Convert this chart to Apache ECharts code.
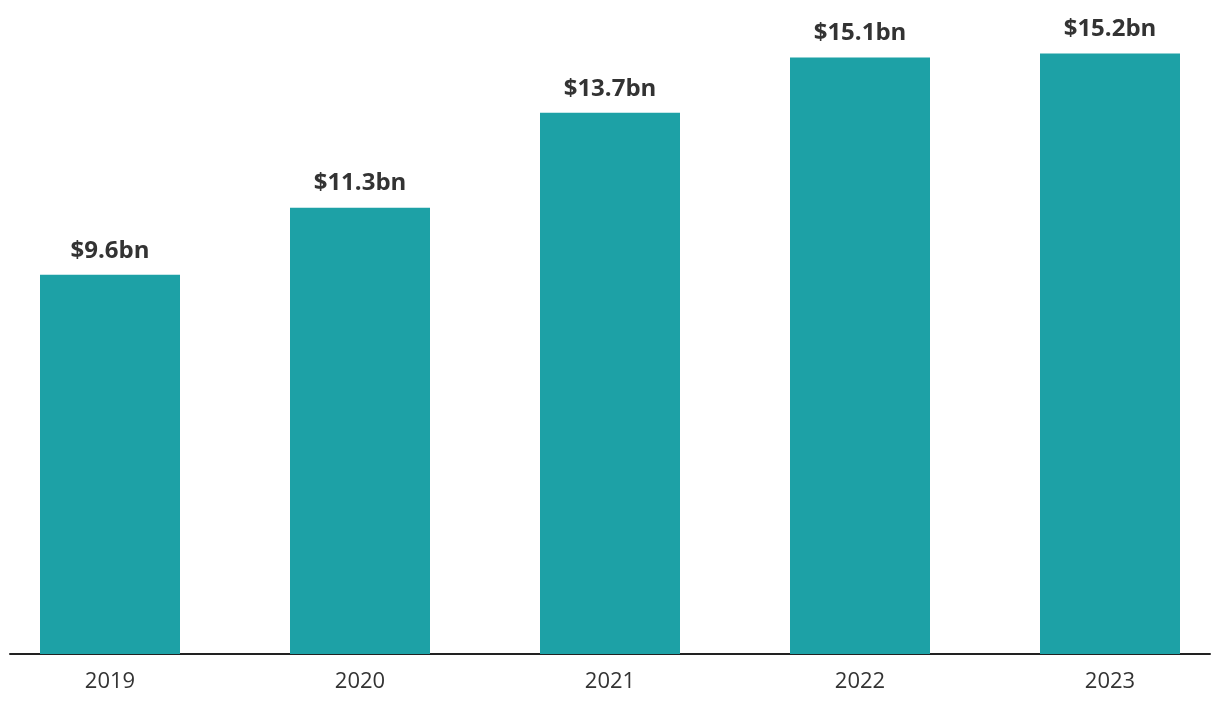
<!DOCTYPE html>
<html><head><meta charset="utf-8">
<script src="https://cdn.jsdelivr.net/npm/echarts@6/dist/echarts.min.js"></script>
<style>html,body{margin:0;padding:0;background:#fff}#c{width:1220px;height:718px}</style>
</head><body><div id="c"></div>
<script>
const categories = ['2019','2020','2021','2022','2023'];
const values = [9.6, 11.3, 13.7, 15.1, 15.2];
const labels = ['$9.6bn','$11.3bn','$13.7bn','$15.1bn','$15.2bn'];

const chart = echarts.init(document.getElementById('c'), null, {renderer:'canvas'});
chart.setOption({
  animation:false,
  grid:[
    {left:-15, width:1250, top:22, bottom:64, containLabel:false, outerBoundsMode:'none'},
    {left:10, right:10, top:22, bottom:64, containLabel:false, outerBoundsMode:'none'}
  ],
  xAxis:[
    {type:'category', gridIndex:0, data:categories,
     axisLine:{show:false}, axisTick:{show:false},
     axisLabel:{color:'#333', fontFamily:'Open Sans', fontSize:22, margin:17}},
    {type:'category', gridIndex:1, data:[''], axisLine:{show:true, lineStyle:{color:'#222', width:2}},
     axisTick:{show:false}, axisLabel:{show:false}}
  ],
  yAxis:[
    {type:'value', gridIndex:0, min:0, max:16, show:false, splitLine:{show:false}},
    {type:'value', gridIndex:1, min:0, max:16, show:false, splitLine:{show:false}}
  ],
  series:[{
    type:'bar', xAxisIndex:0, yAxisIndex:0, data:values, barWidth:140,
    itemStyle:{color:'#1DA1A6'}, z:1,
    label:{show:true, position:'top', distance:12, color:'#333', fontFamily:'Open Sans', fontWeight:'bold', fontSize:24,
      formatter:p=>labels[p.dataIndex]}
  }]
});
</script></body></html>
